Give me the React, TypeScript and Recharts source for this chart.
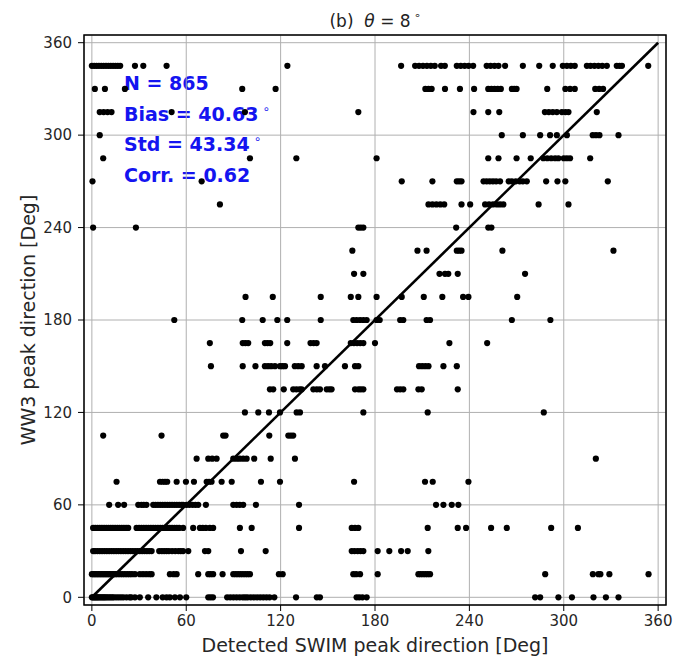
import { ScatterChart, Scatter, XAxis, YAxis, CartesianGrid, ReferenceLine, ReferenceArea } from "recharts";

// axis ticks (deg)
const ticks = [0, 60, 120, 180, 240, 300, 360];

// detected SWIM direction (x) for each WW3 direction level (y, 15 deg bins)
const dir000 = [0, 0.7, 1.4, 2.1, 2.8, 3.5, 4.2, 5, 5.8, 6.6, 7.4, 8.2, 9, 10, 11, 12, 13, 14, 15.5, 17, 18.5, 20, 22, 24, 25, 27.4, 30.5, 35.8, 41, 45, 47.5, 49.6, 52.8, 56, 60, 74, 75.5, 77, 86, 88, 90, 92, 94, 96, 97.5, 99, 101, 103, 105, 107, 109, 111, 113, 116, 129.8, 143, 145, 168.3, 170, 172, 174.7, 281.8, 285, 296.6, 305.2, 318.9, 326.8, 334.8];
const dir015 = [0, 1, 2, 3, 4, 5, 6, 7, 8, 9, 10, 11, 12, 13, 14, 15, 16.5, 18, 19.5, 21, 22.5, 24, 25.5, 27.4, 30.5, 32.5, 34.5, 36.5, 38, 49.6, 52, 53.9, 67.6, 74, 75.5, 77.1, 83.1, 89.9, 91.5, 93, 94.5, 96, 97.5, 99, 100.5, 118.9, 121.3, 166.2, 168, 170.5, 181.7, 207.6, 209, 210.5, 212, 213.5, 215, 288.2, 318.5, 322, 323.3, 329, 353.9];
const dir030 = [0.8, 2, 3.5, 5, 6.5, 8, 9.5, 11, 12.5, 14, 15.5, 17, 18.5, 20, 21.5, 23, 24.5, 26, 27.5, 29, 30.5, 32, 33.5, 35, 36.5, 38, 42.8, 44.5, 46, 47.5, 49, 51, 53, 55, 56.5, 58, 61.3, 71.9, 74, 94.8, 110.5, 165.2, 167, 169, 170.8, 172.6, 181.7, 189.1, 196.6, 200.8, 213.9];
const dir045 = [0.8, 2.2, 3.6, 5, 6.4, 7.8, 9.2, 10.6, 12, 13.4, 14.8, 16.2, 17.6, 19, 20.4, 21.8, 23.1, 28.4, 30, 31.5, 33, 34.5, 36, 37.5, 39, 40.5, 42, 43.5, 45, 46.5, 48, 49.5, 51, 52.5, 54, 55.5, 58, 64.4, 68.7, 70.5, 72.5, 75, 77.1, 94.1, 101.6, 131.7, 165.2, 167.3, 169.4, 213.5, 232.6, 237.9, 253.8, 263.8, 292, 309];
const dir060 = [11, 16.7, 20.5, 29.5, 31.5, 33, 34.7, 39, 40.5, 42, 43.5, 45, 46.5, 48, 49.5, 51, 52.5, 54, 55.5, 57, 58, 60.2, 62, 64, 65.8, 67.6, 72.5, 89.9, 92, 94, 96.2, 104.3, 131.7, 218.8, 223.5, 228.8, 233];
const dir075 = [15.7, 43.3, 45, 46.5, 47.9, 53.9, 59.8, 64.9, 73, 74.5, 76.1, 82.5, 88.9, 107.5, 119.6, 166.7, 211.8, 216.7, 239.4];
const dir090 = [66.6, 74, 76.5, 79.3, 89.9, 92, 94, 96.2, 98.4, 103.2, 113.7, 129.1, 320.4];
const dir105 = [7.2, 44.3, 83.5, 85, 112.8, 124.9, 126.5, 128];
const dir120 = [97.3, 105.8, 112.6, 119.6, 130.2, 132.3, 172.6, 213.5, 287.3];
const dir135 = [113.2, 115.3, 122, 128, 130, 132, 133.4, 140.8, 143, 145, 149.3, 151, 152.4, 167.3, 169.5, 171, 172.6, 194, 196, 198, 207.6, 209.7, 232.6];
const dir150 = [75.7, 95.9, 104, 110, 112, 114, 116.4, 119.6, 121.2, 122.8, 129, 131.2, 133.4, 142.9, 148.2, 160.9, 167.3, 169.4, 208, 210, 212, 214, 223.5, 232];
const dir165 = [75, 95.9, 97.6, 99.4, 110, 111.7, 113.4, 124.2, 139, 141, 142.9, 164.6, 166.6, 168.6, 170.6, 172.6, 180, 227.3, 251.3];
const dir180 = [52.4, 95.6, 108.6, 117.9, 124.2, 145.5, 166.2, 168.3, 170.5, 172.6, 174.7, 181, 183, 196, 198, 212.8, 215, 267, 291.5];
const dir195 = [97.7, 115, 145.5, 164.6, 169.4, 181, 197, 211, 222.8, 236, 239.4, 270.4];
const dir210 = [166.7, 172.6, 221, 224.5, 226.6, 232.6, 275.4];
const dir225 = [165.6, 207, 212.8, 232, 233.5, 235, 261, 331.6];
const dir240 = [0.8, 28, 169.4, 171, 172.6, 231.6, 252, 254];
const dir255 = [81.4, 214, 216.5, 219, 221.5, 224, 235, 240.5, 250, 252.5, 255, 257.5, 259.5, 261.6, 284, 303];
const dir270 = [0.4, 69.8, 197, 216.5, 232, 233.5, 235, 249, 251, 253, 255, 257, 259.5, 265, 267, 269.5, 272, 274, 276.5, 288.8, 296, 301, 328];
const dir285 = [7.2, 100.5, 130, 181, 252, 258.5, 270, 279, 287, 289.5, 292, 294.5, 296.6, 300, 302, 304, 316.8];
const dir300 = [5, 260.6, 274, 285, 291.3, 295.6, 302, 318.4, 320.5, 322.7, 334.8];
const dir315 = [5, 7.5, 10, 12.5, 50.7, 97.3, 169.4, 242.6, 252, 259, 288, 290.5, 293, 295.6, 298.8, 301, 303, 321];
const dir330 = [1.9, 8.3, 21, 95.6, 116.8, 212, 214, 216, 224.5, 234, 243, 252, 254, 256, 258, 260, 267, 268.5, 270, 289.5, 301, 304, 307, 320, 322.5, 325];
const dir345 = [0, 1.5, 3, 4.5, 6, 7.5, 9, 10.5, 12, 13.5, 15, 16.5, 18, 27.4, 32.7, 47.5, 124.3, 196.6, 205.5, 208, 210.5, 213, 215.5, 218, 222, 224.4, 232, 234.5, 237, 239.5, 242.4, 251, 253.5, 256, 258.5, 262.7, 274, 284.4, 293, 299.4, 302, 304.5, 307, 314.7, 317, 319.5, 322, 324.5, 327.4, 333.7, 335.5, 337, 353.7];

const levels: [number, number[]][] = [
  [0, dir000], [15, dir015], [30, dir030], [45, dir045], [60, dir060], [75, dir075],
  [90, dir090], [105, dir105], [120, dir120], [135, dir135], [150, dir150], [165, dir165],
  [180, dir180], [195, dir195], [210, dir210], [225, dir225], [240, dir240], [255, dir255],
  [270, dir270], [285, dir285], [300, dir300], [315, dir315], [330, dir330], [345, dir345],
];

const points = levels.flatMap(([y, xs]) => xs.map((x) => ({ x, y })));

const stats = [
  { label: "N = 865", deg: false },
  { label: "Bias = 40.63", deg: true },
  { label: "Std = 43.34", deg: true },
  { label: "Corr. = 0.62", deg: false },
];

const Dot = (props: any) => <circle cx={props.cx} cy={props.cy} r={3.1} fill="#000" />;

const font = "'DejaVu Sans', sans-serif";

export default function App() {
  return (
    <div style={{ position: "absolute", left: 0, top: 0, width: 674, height: 656, background: "#fff", fontFamily: font }}>
      <svg width={674} height={656} style={{ position: "absolute", left: 0, top: 0 }}>
        <text x={375} y={27} textAnchor="middle" fontSize={17} fill="#222" style={{ whiteSpace: "pre" }}>
          <tspan>(b)  </tspan>
          <tspan fontStyle="italic">θ</tspan>
          <tspan> = 8</tspan>
          <tspan fontSize={11} dx={3} dy={-8}>∘</tspan>
        </text>
        {stats.map((s, i) => (
          <text key={s.label} x={124} y={90 + i * 30.5} fontSize={19} fontWeight="bold" fill="#1414f0">
            {s.label}
            {s.deg && (
              <tspan fontSize={12} fontWeight="normal" dx={4} dy={-8}>∘</tspan>
            )}
          </text>
        ))}
        <text x={375} y={652} textAnchor="middle" fontSize={19} fill="#262626">
          Detected SWIM peak direction [Deg]
        </text>
        <text transform="translate(35,320) rotate(-90)" textAnchor="middle" fontSize={19} fill="#262626">
          WW3 peak direction [Deg]
        </text>
      </svg>
      <div style={{ position: "absolute", left: 0, top: 0 }}>
        <ScatterChart width={674} height={656} margin={{ top: 35, right: 8, bottom: 0, left: 0 }}>
          <CartesianGrid stroke="#b0b0b0" strokeWidth={1} />
          <XAxis
            type="number"
            dataKey="x"
            domain={[-5, 365]}
            ticks={ticks}
            interval={0}
            height={51}
            axisLine={false}
            tickSize={6}
            tickMargin={4}
            tickLine={{ stroke: "#000" }}
            tick={{ fontSize: 15, fill: "#262626", fontFamily: font }}
          />
          <YAxis
            type="number"
            dataKey="y"
            domain={[-5, 365]}
            ticks={ticks}
            interval={0}
            width={84}
            axisLine={false}
            tickSize={6}
            tickMargin={6}
            tickLine={{ stroke: "#000" }}
            tick={{ fontSize: 15, fill: "#262626", fontFamily: font }}
          />
          <ReferenceArea x1={-5} x2={365} y1={-5} y2={365} fill="none" fillOpacity={0} stroke="#000" strokeWidth={1.5} />
          <Scatter data={points} shape={Dot} isAnimationActive={false} />
          <ReferenceLine
            segment={[{ x: 0, y: 0 }, { x: 360, y: 360 }]}
            stroke="#000"
            strokeWidth={2.6}
          />
        </ScatterChart>
      </div>
    </div>
  );
}
